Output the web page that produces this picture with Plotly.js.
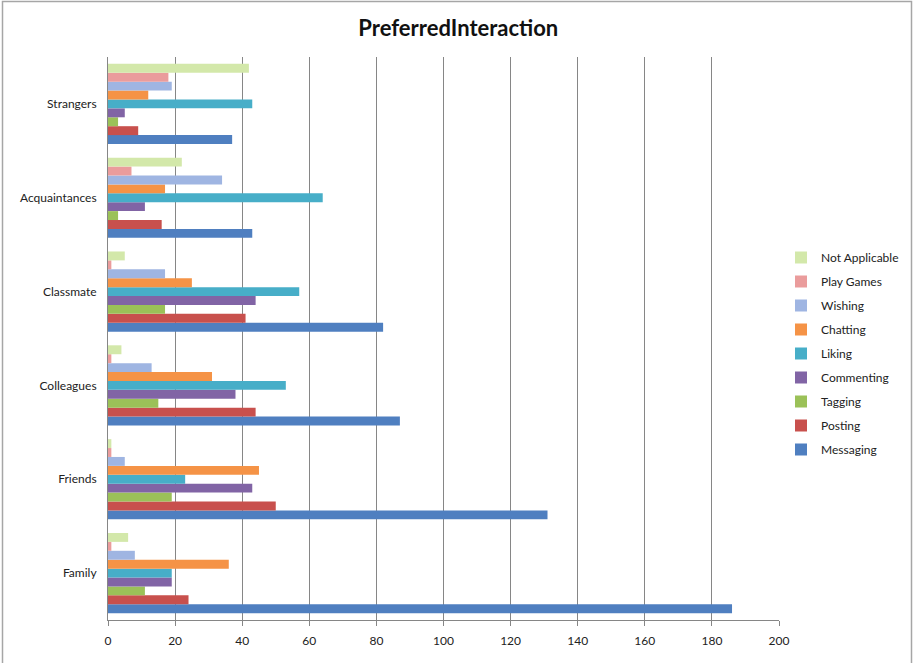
<!DOCTYPE html>
<html>
<head>
<meta charset="utf-8">
<script src="https://cdn.plot.ly/plotly-3.0.1.min.js"></script>
<style>
  html, body { margin: 0; padding: 0; background: #ffffff; }
  #chart { width: 913px; height: 663px; }
</style>
</head>
<body>
<div id="chart"></div>
<script>
// Audience groups, bottom to top
const categories = ['Family', 'Friends', 'Colleagues', 'Classmate', 'Acquaintances', 'Strangers'];

// Interaction types (first one is drawn lowest in each group)
const seriesNames = ['Messaging', 'Posting', 'Tagging', 'Commenting', 'Liking', 'Chatting', 'Wishing', 'Play Games', 'Not Applicable'];

// Counts per audience group, same order as categories
const messaging     = [186, 131, 87, 82, 43, 37];
const posting       = [24, 50, 44, 41, 16, 9];
const tagging       = [11, 19, 15, 17, 3, 3];
const commenting    = [19, 43, 38, 44, 11, 5];
const liking        = [19, 23, 53, 57, 64, 43];
const chatting      = [36, 45, 31, 25, 17, 12];
const wishing       = [8, 5, 13, 17, 34, 19];
const playGames     = [1, 1, 1, 1, 7, 18];
const notApplicable = [6, 1, 4, 5, 22, 42];

const xTickValues = [0, 20, 40, 60, 80, 100, 120, 140, 160, 180, 200];

const seriesValues = [messaging, posting, tagging, commenting, liking, chatting, wishing, playGames, notApplicable];
const seriesColors = ['#4f7fc0', '#c8504d', '#9bc158', '#8164a5', '#47aec8', '#f59346', '#9fb5e2', '#ea9c9c', '#d3e8aa'];

// Legend lists the series top-down in reverse drawing order
const traces = seriesNames.map((name, i) => ({
  type: 'bar',
  orientation: 'h',
  name: name,
  legendgroup: name,
  legendrank: 100 + (seriesNames.length - i),
  y: categories,
  x: seriesValues[i],
  marker: { color: seriesColors[i], line: { width: 0 } },
  hoverinfo: 'x+name'
}));

const FONT = 'Lato, "Open Sans", "DejaVu Sans", sans-serif';

const PLOT_LEFT = 108, PLOT_RIGHT = 779, PLOT_TOP = 57, PLOT_BOTTOM = 620;
const plotW = PLOT_RIGHT - PLOT_LEFT, plotH = PLOT_BOTTOM - PLOT_TOP;

const layout = {
  width: 913,
  height: 663,
  margin: { l: PLOT_LEFT, r: 913 - PLOT_RIGHT, t: PLOT_TOP, b: 663 - PLOT_BOTTOM, pad: 0 },
  paper_bgcolor: '#ffffff',
  plot_bgcolor: '#ffffff',
  font: { family: FONT, size: 12, color: '#222222' },
  title: {
    text: '<b>PreferredInteraction</b>',
    font: { family: FONT, size: 22, color: '#111111' },
    x: 0.502, xanchor: 'center',
    y: 1 - 28 / 663, yanchor: 'middle'
  },
  barmode: 'group',
  bargap: 0.145,
  bargroupgap: 0,
  xaxis: {
    range: [0, 200],
    tickmode: 'array',
    tickvals: xTickValues,
    ticktext: xTickValues.map(String),
    showgrid: true,
    gridcolor: '#868686',
    gridwidth: 1,
    zeroline: false,
    showline: true,
    linecolor: '#868686',
    linewidth: 1,
    ticks: 'outside',
    ticklen: 5,
    tickcolor: '#868686',
    ticklabelstandoff: 5,
    tickfont: { family: FONT, size: 12, color: '#222222' },
    fixedrange: true
  },
  yaxis: {
    type: 'category',
    categoryorder: 'array',
    categoryarray: categories,
    showgrid: false,
    zeroline: false,
    showline: true,
    linecolor: '#868686',
    linewidth: 1,
    ticks: '',
    ticklabelstandoff: 8,
    tickfont: { family: FONT, size: 12, color: '#222222' },
    fixedrange: true
  },
  legend: {
    traceorder: 'grouped',
    tracegroupgap: 5,
    xref: 'container', yref: 'container',
    x: 781 / 913, xanchor: 'left',
    y: 1 - 243 / 663, yanchor: 'top',
    font: { family: FONT, size: 12, color: '#222222' },
    bgcolor: 'rgba(0,0,0,0)',
    itemwidth: 30
  },
  shapes: [
    {
      type: 'rect', xref: 'paper', yref: 'paper',
      x0: (2.5 - PLOT_LEFT) / plotW, x1: (911.5 - PLOT_LEFT) / plotW,
      y0: (PLOT_BOTTOM - 670) / plotH, y1: (PLOT_BOTTOM - 1.5) / plotH,
      line: { color: '#a6a6a6', width: 1.5 },
      fillcolor: 'rgba(0,0,0,0)',
      layer: 'below'
    }
  ],
  showlegend: true
};

Plotly.newPlot('chart', traces, layout, { displayModeBar: false, staticPlot: true });
</script>
</body>
</html>
